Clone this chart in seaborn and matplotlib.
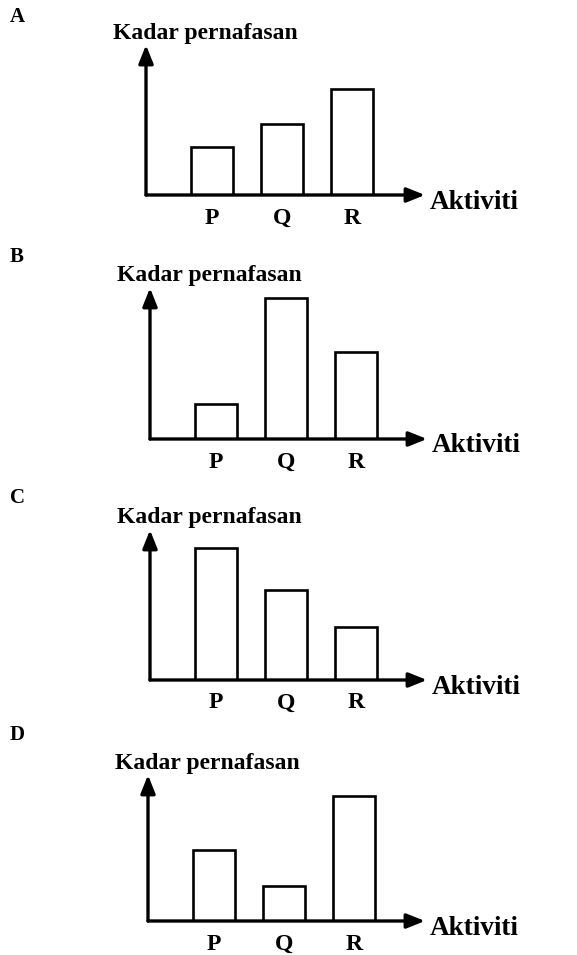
import matplotlib
matplotlib.use('Agg')
import matplotlib.pyplot as plt
import seaborn as sns
import pandas as pd

sns.set_style('white')
plt.rcParams['font.family'] = ['Liberation Serif', 'DejaVu Serif']
plt.rcParams['font.weight'] = 'bold'
plt.rcParams['text.color'] = 'black'
plt.rcParams['xtick.color'] = 'black'
plt.rcParams['axes.labelcolor'] = 'black'

# data (bar heights, arbitrary units)
activities = ['P', 'Q', 'R']
panel_names = ['A', 'B', 'C', 'D']
rate_a = [48, 71, 106]
rate_b = [35, 141, 87]
rate_c = [132, 90, 53]
rate_d = [71, 35, 125]
rates = [rate_a, rate_b, rate_c, rate_d]

# layout in pixels: y-axis x, x-axis y, arrow tip top y, arrow tip right x, letter y
W, H = 577, 955
layout = [
    (146, 195, 45, 425, 17),
    (150, 439, 288, 427, 257),
    (150, 680, 530, 427, 498),
    (148, 921, 775, 425, 735),
]
spacing = 70.0   # px between bar centres
first = 66.0     # px from y-axis to first bar centre

fig = plt.figure(figsize=(W / 100, H / 100), dpi=100)

for name, vals, (x0, yb, yt, xr, ly) in zip(panel_names, rates, layout):
    aw = xr - x0
    ah = yb - yt
    ax = fig.add_axes([x0 / W, 1 - yb / H, aw / W, ah / H])
    df = pd.DataFrame({'Aktiviti': activities, 'Kadar': vals})
    sns.barplot(data=df, x='Aktiviti', y='Kadar', ax=ax, color='white',
                edgecolor='black', linewidth=1.9, width=0.6, saturation=1)
    left = -first / spacing
    ax.set_xlim(left, left + aw / spacing)
    ax.set_ylim(0, ah)
    for s in ax.spines.values():
        s.set_visible(False)
    ax.set_yticks([])
    ax.set_xlabel('')
    ax.set_ylabel('')
    ax.tick_params(axis='x', length=0, pad=9, labelsize=17)
    for arrow_xy in [(0, 1), (1, 0)]:
        ax.annotate('', xy=arrow_xy, xytext=(0, 0), xycoords='axes fraction',
                    arrowprops=dict(arrowstyle='-|>,head_length=0.55,head_width=0.22',
                                    lw=2.4, color='black',
                                    mutation_scale=20, shrinkA=0, shrinkB=0))
    ax.text(-33 / aw, 1 + 12 / ah, 'Kadar pernafasan', transform=ax.transAxes,
            fontsize=17, va='center', ha='left')
    ax.text(1 + 5 / aw, -7 / ah, 'Aktiviti', transform=ax.transAxes,
            fontsize=19.5, va='center', ha='left')
    fig.text(10 / W, 1 - ly / H, name, fontsize=15, va='center', ha='left')

fig.savefig('out.png', dpi=100, facecolor='white')
